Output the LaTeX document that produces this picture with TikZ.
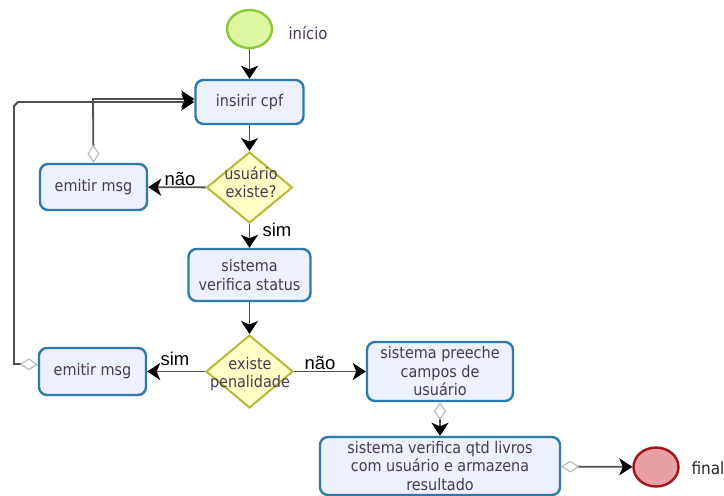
\documentclass[tikz,border=0pt]{standalone}
\usepackage{fontspec}
\setmainfont{DejaVu Sans Condensed}
\newfontfamily\labelfont{Liberation Sans}
\usetikzlibrary{arrows.meta,shapes.geometric}

\definecolor{boxfill}{RGB}{237,240,253}
\definecolor{boxline}{RGB}{44,123,170}
\definecolor{decfill}{RGB}{255,255,198}
\definecolor{decline}{RGB}{184,184,58}
\definecolor{startfill}{RGB}{221,246,160}
\definecolor{startline}{RGB}{140,200,60}
\definecolor{endfill}{RGB}{232,160,164}
\definecolor{endline}{RGB}{160,22,24}
\definecolor{txt}{RGB}{72,58,84}
\definecolor{linec}{RGB}{80,80,80}

\begin{document}
\begin{tikzpicture}[x=1pt,y=-1pt,
  act/.style={draw=boxline, fill=boxfill, line width=2.4pt, rounded corners=8pt,
    align=center, font=\fontsize{16}{18.5}\selectfont, text=txt, inner sep=0pt},
  decision/.style={shape=diamond, draw=decline, fill=decfill, line width=2pt,
    inner sep=0pt},
  dtext/.style={align=center, font=\fontsize{16}{17.5}\selectfont, text=txt, inner sep=0pt},
  terminal/.style={shape=ellipse, line width=2.4pt, inner sep=0pt},
  edgelabel/.style={font=\labelfont\fontsize{18.5}{18.5}\selectfont, text=black, inner sep=0pt},
  flow/.style={draw=linec, line width=1.8pt,
    -{Stealth[length=13pt,width=17pt,inset=3.5pt,color=black]}},
  tailflow/.style={draw=linec, line width=1.8pt,
    {Diamond[open,length=18pt,width=12pt,color=gray!55,line width=1.2pt]}-{Stealth[length=13pt,width=17pt,inset=3.5pt,color=black]}}
]
\useasboundingbox (0,0) rectangle (724,496);

% start and end events
\node[terminal, draw=startline, fill=startfill, minimum width=45pt, minimum height=38pt] (start) at (249.5,29) {};
\node[font=\fontsize{16.5}{18}\selectfont, text=txt, anchor=west] (startlbl) at (285,33) {início};
\node[terminal, draw=endline, fill=endfill, minimum width=45pt, minimum height=39pt] (final) at (656,467) {};
\node[font=\fontsize{17}{18}\selectfont, text=black!85, anchor=west] (finallbl) at (688,468) {final};

% activities
\node[act, minimum width=108pt, minimum height=44pt] (ins) at (249.5,102) {insirir cpf};
\node[act, minimum width=107pt, minimum height=46pt] (m1) at (93.5,187) {emitir msg};
\node[act, minimum width=122pt, minimum height=52pt] (stat) at (249.5,275) {sistema\\verifica status};
\node[act, minimum width=107pt, minimum height=47pt] (m2) at (92.5,371.5) {emitir msg};
\node[act, minimum width=146pt, minimum height=59pt] (pre) at (440,371.5) {sistema preeche\\campos de\\usuário};
\node[act, minimum width=240pt, minimum height=58pt] (qtd) at (440,466) {sistema verifica qtd livros\\com usuário e armazena\\resultado};

% decisions
\node[decision, minimum width=86pt, minimum height=71pt] (d1) at (249.5,187.5) {};
\node[dtext] (d1t) at (251,182) {usuário\\existe?};
\node[decision, minimum width=87pt, minimum height=73pt] (d2) at (249.5,371.5) {};
\node[dtext] (d2t) at (250,374) {existe\\penalidade};

% main flow
\draw[flow] (start) -- (ins);
\draw[flow] (ins) -- (d1);
\draw[flow] (d1) -- (m1);
\draw[flow] (d1) -- (stat);
\draw[flow] (stat) -- (d2);
\draw[flow] (d2) -- (m2);
\draw[flow] (d2) -- (pre);
\draw[tailflow] (pre) -- (qtd);
\draw[tailflow] (qtd) -- (final);

% branch labels
\node[edgelabel] (l1) at (180,179) {não};
\node[edgelabel] (l2) at (277,230) {sim};
\node[edgelabel] (l3) at (175,359) {sim};
\node[edgelabel] (l4) at (320,363) {não};

% loops back to the cpf input
\coordinate (j1) at (93,99);
\draw[tailflow] (m1.north) -- (j1) -- (ins.west |- j1);
\coordinate (k1) at (14,364);
\coordinate (k2) at (14,106);
\coordinate (k3) at (18,102);
\draw[tailflow] ([yshift=7pt]m2.west) -- (k1) -- (k2) -- (k3) -- (ins.west |- k3);
\end{tikzpicture}
\end{document}
